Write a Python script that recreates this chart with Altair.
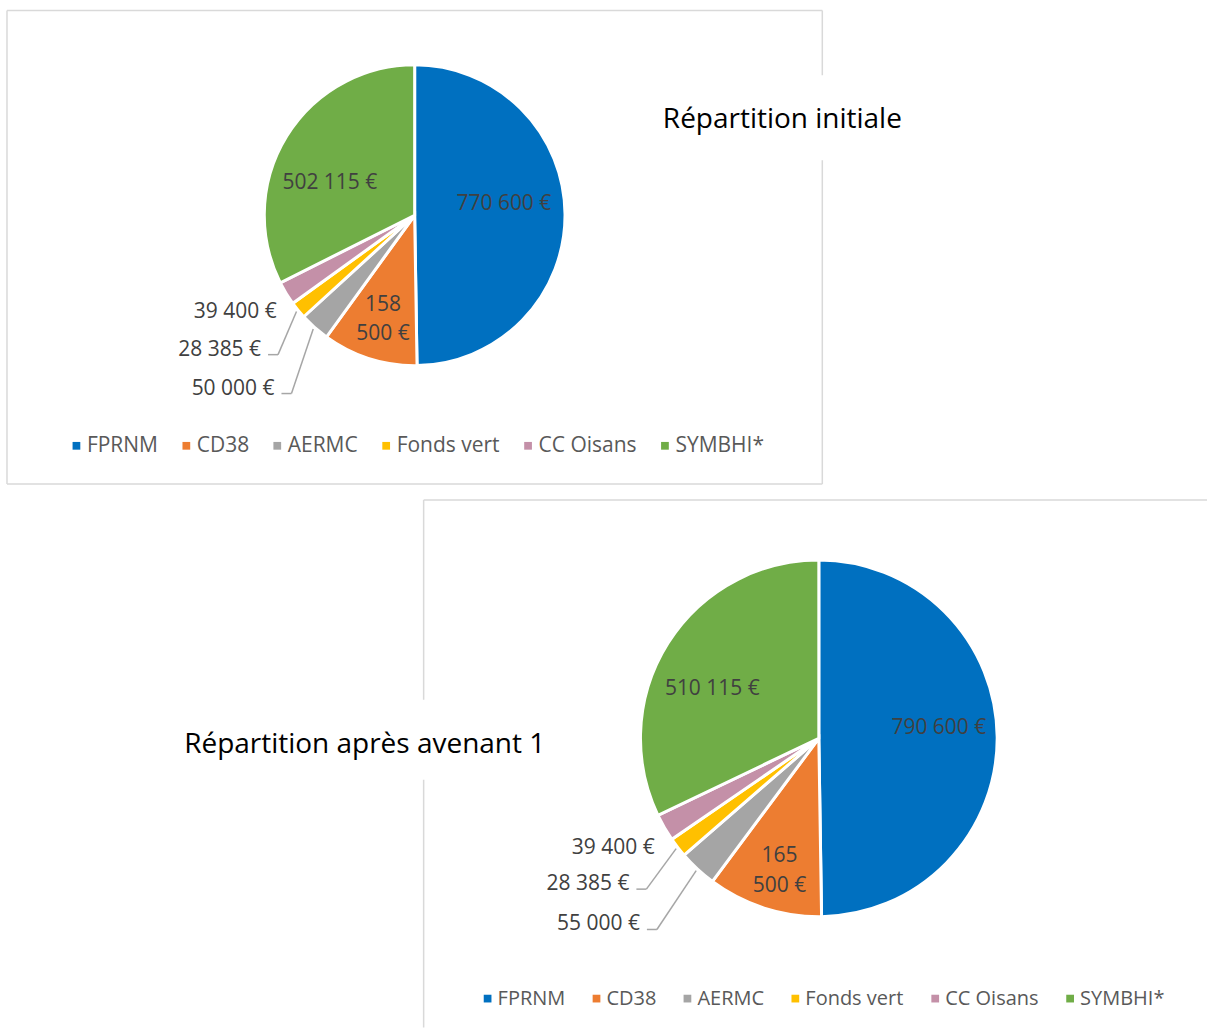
import altair as alt
import pandas as pd

# ---------------- data ----------------
categories = ["FPRNM", "CD38", "AERMC", "Fonds vert", "CC Oisans", "SYMBHI*"]
values_initial = [770600, 158500, 50000, 28385, 39400, 502115]
values_avenant = [790600, 165500, 55000, 28385, 39400, 510115]
colors = ["#0070C0", "#ED7D31", "#A5A5A5", "#FFC000", "#C490A8", "#70AD47"]
titles = ["Répartition initiale", "Répartition après avenant 1"]

inside_cats = ["FPRNM", "CD38", "SYMBHI*"]
outside_cats = ["AERMC", "Fonds vert", "CC Oisans"]
leader_cats = ["AERMC", "Fonds vert"]
wrap_cats = ["CD38"]

FONT = "Open Sans"


def fmt(v, wrap):
    s = f"{v:,}".replace(",", " ")
    parts = s.split(" ")
    if wrap:
        return parts[0] + "\n" + " ".join(parts[1:]) + " €"
    return s + " €"


def table(values):
    return pd.DataFrame({
        "cat": categories,
        "value": values,
        "idx": list(range(len(categories))),
        "label": [fmt(v, c in wrap_cats) for c, v in zip(categories, values)],
    })


# ---------------- layout ----------------
layouts = [
    dict(h=492, cx=415, cy=215, r=150.5,
         edges=[(7, 823, 10, 10), (7, 823, 484, 484), (7, 7, 10, 484), (823, 823, 10, 484)],
         gap=(655, 912, 75, 160),
         title_xy=(783, 120), legend_xy=(66, 435), legend_font=21, legend_pad=17,
         rf=[0.6, 0.72, 1.5, 1.3, 1.05, 0.6],
         dx=[-1, 1, 10, -2, -3, -8],
         dy=[-11, -14, 5, 11, 15, 15]),
    dict(h=536, cx=819.5, cy=246.5, r=178.5,
         edges=[(424, 1208, 8, 8), (424, 424, 8, 536)],
         gap=(180, 552, 208, 288),
         title_xy=(365, 253), legend_xy=(478, 497), legend_font=20, legend_pad=21,
         rf=[0.6, 0.72, 1.5, 1.3, 1.05, 0.6],
         dx=[13, 0, 3, -6, -2, -16],
         dy=[-9, -5, -10, 4, 16, 8]),
]


def js(arr):
    return "[" + ",".join(str(a) for a in arr) + "]"


def panel(values, title, L):
    W, H = 1208, L["h"]
    blank = alt.Chart(alt.Data(values=[{}]))
    edges = []
    for (x0, x1, y0, y1) in L["edges"]:
        edges.append(blank.mark_rule(stroke="#D9D9D9", strokeWidth=1.5).encode(
            x=alt.value(x0), x2=alt.value(x1), y=alt.value(y0), y2=alt.value(y1)))
    gx0, gx1, gy0, gy1 = L["gap"]
    gap = blank.mark_rect(fill="white").encode(
        x=alt.value(gx0), x2=alt.value(gx1), y=alt.value(gy0), y2=alt.value(gy1))
    ttl = blank.mark_text(font=FONT, fontSize=28, color="#000000", align="center",
                          baseline="middle").encode(
        x=alt.value(L["title_xy"][0]), y=alt.value(L["title_xy"][1]), text=alt.value(title))

    cx, cy, r = L["cx"], L["cy"], L["r"]
    base = alt.Chart(table(values)).transform_joinaggregate(
        total="sum(value)"
    ).transform_window(
        cum="sum(value)", sort=[alt.SortField("idx")]
    ).transform_calculate(
        a0="2*PI*(datum.cum - datum.value)/datum.total",
        a1="2*PI*datum.cum/datum.total",
    ).transform_calculate(
        am="(datum.a0 + datum.a1)/2",
        rf=f"{js(L['rf'])}[datum.idx]",
        ddx=f"{js(L['dx'])}[datum.idx]",
        ddy=f"{js(L['dy'])}[datum.idx]",
    ).transform_calculate(
        lx=f"{cx} + datum.rf*{r}*sin(datum.am) + datum.ddx",
        ly=f"{cy} - datum.rf*{r}*cos(datum.am) + datum.ddy",
        sx=f"{cx} + {r + 2}*sin(datum.am)",
        sy=f"{cy} - {r + 2}*cos(datum.am)",
    ).transform_calculate(
        ex="datum.lx + 17",
        hx="datum.lx + 7",
        ey="datum.ly + 5",
    )

    arcs = base.mark_arc(radius=r, stroke="white", strokeWidth=3).encode(
        theta=alt.Theta("a0:Q", scale=None),
        theta2=alt.Theta2("a1:Q"),
        x=alt.value(cx), y=alt.value(cy),
        color=alt.Color("cat:N", scale=alt.Scale(domain=categories, range=colors),
                        legend=alt.Legend(
                            title=None, orient="none", direction="horizontal",
                            legendX=L["legend_xy"][0], legendY=L["legend_xy"][1],
                            symbolType="square", symbolSize=60, symbolStrokeWidth=0,
                            labelFont=FONT, labelFontSize=L["legend_font"],
                            labelColor="#595959",
                            labelOffset=0, columnPadding=L["legend_pad"], padding=0)),
        order=alt.Order("idx:Q"),
    )

    inside = base.transform_filter(
        alt.FieldOneOfPredicate(field="cat", oneOf=inside_cats)
    ).mark_text(font=FONT, fontSize=21, color="#404040", align="center",
                baseline="middle", lineBreak="\n", lineHeight=30).encode(
        x=alt.X("lx:Q", scale=None), y=alt.Y("ly:Q", scale=None), text="label:N")

    outside = base.transform_filter(
        alt.FieldOneOfPredicate(field="cat", oneOf=outside_cats)
    ).mark_text(font=FONT, fontSize=21, color="#404040", align="right",
                baseline="middle").encode(
        x=alt.X("lx:Q", scale=None), y=alt.Y("ly:Q", scale=None), text="label:N")

    lead = base.transform_filter(alt.FieldOneOfPredicate(field="cat", oneOf=leader_cats))
    lead1 = lead.mark_rule(color="#A6A6A6", strokeWidth=1.5).encode(
        x=alt.X("sx:Q", scale=None), y=alt.Y("sy:Q", scale=None),
        x2="ex:Q", y2="ey:Q")
    lead2 = lead.mark_rule(color="#A6A6A6", strokeWidth=1.5).encode(
        x=alt.X("ex:Q", scale=None), y=alt.Y("ey:Q", scale=None),
        x2="hx:Q", y2="ey:Q")

    return alt.layer(*edges, gap, ttl, arcs, inside, outside, lead1, lead2).properties(
        width=W, height=H)


top = panel(values_initial, titles[0], layouts[0])
bottom = panel(values_avenant, titles[1], layouts[1])

chart = alt.vconcat(top, bottom, spacing=0).resolve_scale(
    color="independent").resolve_legend(color="independent").properties(
    padding=0, background="white").configure_view(strokeWidth=0)

chart.save("out.html", embed_options={"renderer": "svg", "actions": False})
